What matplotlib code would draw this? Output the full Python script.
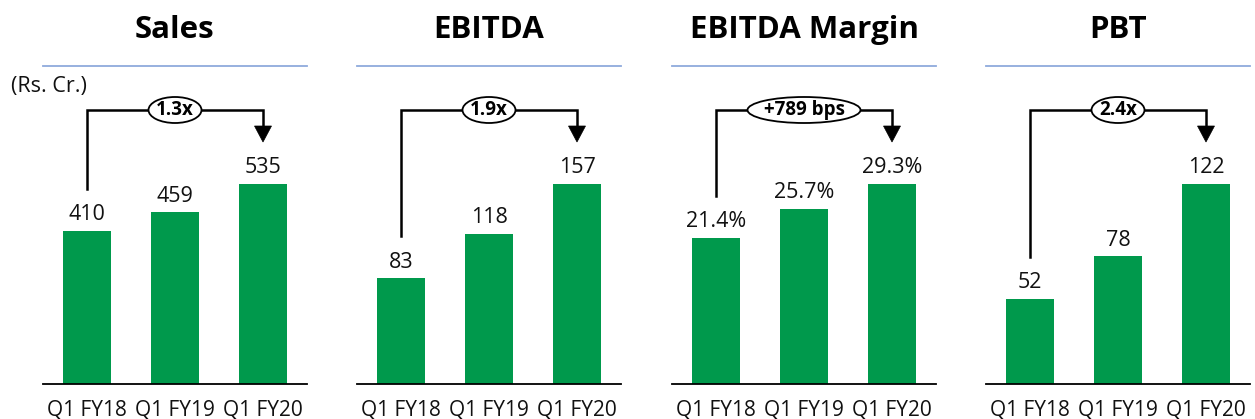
import matplotlib
matplotlib.use("Agg")
import matplotlib.pyplot as plt
from matplotlib.patches import Ellipse, Polygon
import matplotlib.transforms as mtransforms

plt.rcParams['font.family'] = ['Open Sans', 'DejaVu Sans']

categories = ["Q1 FY18", "Q1 FY19", "Q1 FY20"]
titles = ["Sales", "EBITDA", "EBITDA Margin", "PBT"]
sales = [410, 459, 535]
ebitda = [83, 118, 157]
margin = [21.4, 25.7, 29.3]
pbt = [52, 78, 122]
sales_labels = ["410", "459", "535"]
ebitda_labels = ["83", "118", "157"]
margin_labels = ["21.4%", "25.7%", "29.3%"]
pbt_labels = ["52", "78", "122"]
growth_labels = ["1.3x", "1.9x", "+789 bps", "2.4x"]
unit_label = "(Rs. Cr.)"

series = [sales, ebitda, margin, pbt]
series_labels = [sales_labels, ebitda_labels, margin_labels, pbt_labels]

W, H = 1255, 419
GREEN = '#00994C'
BLUE = '#8FAADC'

fig = plt.figure(figsize=(W / 100, H / 100), dpi=100)

lefts = [43, 357, 672, 986]
ax_w = 264
ax_bottom_px = 384
ax_top_px = 66
ax_h = ax_bottom_px - ax_top_px
ell_w_px = [53, 53, 113, 53]

def px2frac(px):
    return px / ax_h

for k in range(4):
    vals = series[k]
    labs = series_labels[k]
    ax = fig.add_axes([lefts[k] / W, (H - ax_bottom_px) / H, ax_w / W, ax_h / H])
    ymax = max(vals) * ax_h / 200.0
    x = list(range(len(categories)))
    ax.bar(x, vals, width=48 / 88, color=GREEN, zorder=2)
    ax.set_xlim(-0.5, 2.5)
    ax.set_ylim(0, ymax)
    ax.set_xticks(x)
    ax.set_xticklabels(categories, fontsize=15, color='#111111')
    ax.tick_params(axis='x', length=0, pad=11)
    ax.set_yticks([])
    for s in ['left', 'right']:
        ax.spines[s].set_visible(False)
    ax.spines['bottom'].set_color('black')
    ax.spines['bottom'].set_linewidth(1.3)
    ax.spines['top'].set_color(BLUE)
    ax.spines['top'].set_linewidth(1.3)
    ax.set_title(titles[k], fontsize=22.5, fontweight='bold', pad=20)

    for i, (v, l) in enumerate(zip(vals, labs)):
        ax.annotate(l, xy=(i, v), xytext=(0, 4), textcoords='offset points',
                    ha='center', va='bottom', fontsize=15.5, color='#111111')

    # bracket
    tr = mtransforms.blended_transform_factory(ax.transData, ax.transAxes)
    y_line = px2frac(ax_bottom_px - 110)
    y_start = vals[0] / ymax + px2frac(42)
    y_tip = px2frac(ax_bottom_px - 142)
    head_h = px2frac(16)
    head_w = 17 / 88
    ax.plot([0, 0, 2, 2], [y_start, y_line, y_line, y_tip + head_h],
            transform=tr, color='black', lw=1.8, clip_on=False, zorder=3,
            solid_joinstyle='miter')
    tri = Polygon([[2 - head_w / 2, y_tip + head_h], [2 + head_w / 2, y_tip + head_h], [2, y_tip]],
                  closed=True, transform=tr, facecolor='black', edgecolor='black',
                  lw=0.5, clip_on=False, zorder=3)
    ax.add_patch(tri)
    ell = Ellipse((1, y_line), width=ell_w_px[k] / 88, height=px2frac(26), transform=tr,
                  facecolor='white', edgecolor='black', lw=1.3, clip_on=False, zorder=4)
    ax.add_patch(ell)
    ax.text(1, y_line, growth_labels[k], transform=tr, ha='center', va='center',
            fontsize=13.5, fontweight='bold', zorder=5)

fig.text(49 / W, 1 - 86 / H, unit_label, ha='center', va='center', fontsize=15.5, color='#111111')

fig.savefig('out.png', dpi=100)
